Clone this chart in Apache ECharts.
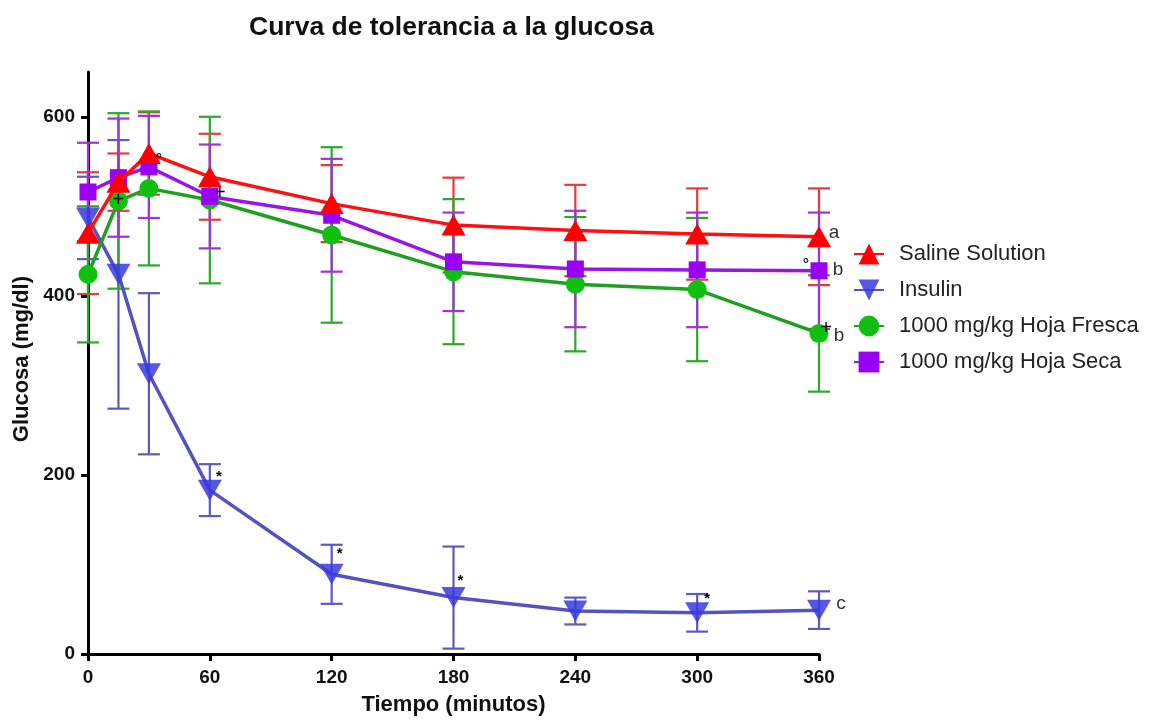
<!DOCTYPE html>
<html>
<head>
<meta charset="utf-8">
<script src="https://cdn.jsdelivr.net/npm/echarts@6/dist/echarts.min.js"></script>
<style>html,body{margin:0;padding:0;background:#fff;}#c{width:1150px;height:721px;}</style>
</head>
<body>
<div id="c"></div>
<script>
// ---- data ----
const times = [0, 15, 30, 60, 120, 180, 240, 300, 360];
const xTicks = [0, 60, 120, 180, 240, 300, 360];
const yTicks = [0, 200, 400, 600];
const seriesNames = ['Saline Solution', 'Insulin', '1000 mg/kg Hoja Fresca', '1000 mg/kg Hoja Seca'];
const saline    = [470, 527, 559, 533, 503, 479, 473, 469, 466];
const salineSD  = [68, 32, 46, 48, 43, 53, 51, 51, 54];
const insulin   = [487, 424, 313, 183, 89, 63, 48, 46, 49];
const insulinSD = [46, 150, 90, 29, 33, 57, 15, 21, 21];
const fresca    = [424, 506, 520, 507, 468, 427, 413, 407, 358];
const frescaSD  = [76, 98, 86, 93, 98, 81, 75, 80, 65];
const seca      = [516, 532, 544, 511, 490, 438, 430, 429, 428];
const secaSD    = [55, 66, 57, 58, 63, 55, 65, 64, 65];
// annotation: [time, value, text]
const annotations = [
  [15, 506, '+'], [30, 544, '°'], [60, 511, '+'], [60, 183, '*'],
  [120, 89, '*'], [180, 63, '*'], [300, 46, '*'],
  [360, 466, 'a'], [360, 428, '°'], [360, 428, 'b'],
  [360, 358, '+'], [360, 358, 'b'], [360, 49, 'c']
];
const annotationOffsets = [
  [0, 0], [10, -7], [10, -3], [9, -13],
  [8, -20], [7, -17], [10, -14],
  [15, -4], [-13, -5], [19, -1],
  [7, -5], [20, 2], [22, -6]
];

const FONT = '"Liberation Sans", Arial, sans-serif';

function errData(vals, sds) { return times.map((t, i) => [t, vals[i], sds[i]]); }
function errRender(color) {
  return function (params, api) {
    const x = api.value(0), m = api.value(1), e = api.value(2);
    const top = api.coord([x, m + e]);
    const bot = api.coord([x, m - e]);
    const w = 11;
    const st = { stroke: color, lineWidth: 2.2 };
    return {
      type: 'group',
      children: [
        { type: 'line', shape: { x1: top[0], y1: top[1], x2: bot[0], y2: bot[1] }, style: st },
        { type: 'line', shape: { x1: top[0] - w, y1: top[1], x2: top[0] + w, y2: top[1] }, style: st },
        { type: 'line', shape: { x1: bot[0] - w, y1: bot[1], x2: bot[0] + w, y2: bot[1] }, style: st }
      ]
    };
  };
}
function pts(vals) { return times.map((t, i) => [t, vals[i]]); }

const colors = {
  saline: { line: '#ff1010', mark: '#ff0000', err: '#e83a3a' },
  insulin: { line: '#5252c2', mark: '#3a3ae0', err: '#5a5ac0' },
  fresca: { line: '#1ea01e', mark: '#10c010', err: '#2da82d' },
  seca: { line: '#9a14e8', mark: '#9a00f5', err: '#a030e0' }
};

const chart = echarts.init(document.getElementById('c'), null, { renderer: 'canvas' });
const option = {
  animation: false,
  backgroundColor: '#ffffff',
  title: {
    text: 'Curva de tolerancia a la glucosa',
    left: 244, top: 9,
    textStyle: { fontFamily: FONT, fontSize: 26.5, fontWeight: 'bold', color: '#111' }
  },
  legend: {
    orient: 'vertical',
    left: 848, top: 238,
    itemWidth: 30, itemHeight: 26, itemGap: 14,
    data: seriesNames,
    textStyle: { fontFamily: FONT, fontSize: 22, color: '#222', padding: [0, 0, 0, 10] }
  },
  grid: { left: 88, right: 331, top: 72, bottom: 67, containLabel: false },
  xAxis: {
    type: 'value', min: 0, max: 360, interval: 60,
    name: 'Tiempo (minutos)', nameLocation: 'middle', nameGap: 40,
    nameTextStyle: { fontFamily: FONT, fontSize: 22, fontWeight: 'bold', color: '#111' },
    axisLine: { show: true, onZero: false, lineStyle: { color: '#000', width: 3 } },
    axisTick: { show: true, length: 7, lineStyle: { color: '#000', width: 3 } },
    axisLabel: { fontFamily: FONT, fontSize: 19, fontWeight: 'bold', color: '#111', margin: 14 },
    splitLine: { show: false }
  },
  yAxis: {
    type: 'value', min: 0, max: 650, interval: 200,
    axisLine: { show: true, onZero: false, lineStyle: { color: '#000', width: 3 } },
    axisTick: { show: true, length: 7, customValues: yTicks, lineStyle: { color: '#000', width: 3 } },
    axisLabel: { fontFamily: FONT, fontSize: 19, fontWeight: 'bold', color: '#111', margin: 13, customValues: yTicks },
    splitLine: { show: false }
  },
  graphic: [{
    type: 'text', left: 11, top: 276, rotation: Math.PI / 2,
    style: { text: 'Glucosa (mg/dl)', font: 'bold 22px ' + FONT, fill: '#111' }
  }],
  series: [
    { name: 'err-saline', type: 'custom', renderItem: errRender(colors.saline.err), data: errData(saline, salineSD), z: 2, silent: true },
    { name: 'err-insulin', type: 'custom', renderItem: errRender(colors.insulin.err), data: errData(insulin, insulinSD), z: 2, silent: true },
    { name: 'err-fresca', type: 'custom', renderItem: errRender(colors.fresca.err), data: errData(fresca, frescaSD), z: 2, silent: true },
    { name: 'err-seca', type: 'custom', renderItem: errRender(colors.seca.err), data: errData(seca, secaSD), z: 2, silent: true },
    {
      name: seriesNames[0], type: 'line', data: pts(saline), z: 5,
      symbol: 'triangle', symbolSize: [24, 21],
      lineStyle: { color: colors.saline.line, width: 3.5 },
      itemStyle: { color: colors.saline.mark }
    },
    {
      name: seriesNames[1], type: 'line', data: pts(insulin), z: 4,
      symbol: 'triangle', symbolRotate: 180, symbolSize: [24, 21],
      lineStyle: { color: colors.insulin.line, width: 3.5 },
      itemStyle: { color: colors.insulin.mark, opacity: 0.85 }
    },
    {
      name: seriesNames[2], type: 'line', data: pts(fresca), z: 4,
      symbol: 'circle', symbolSize: 19,
      lineStyle: { color: colors.fresca.line, width: 3.5 },
      itemStyle: { color: colors.fresca.mark }
    },
    {
      name: seriesNames[3], type: 'line', data: pts(seca), z: 4,
      symbol: 'rect', symbolSize: 17,
      lineStyle: { color: colors.seca.line, width: 3.5 },
      itemStyle: { color: colors.seca.mark }
    },
    {
      name: 'annotations', type: 'custom', z: 10, silent: true,
      data: annotations.map((a, i) => [a[0], a[1], i]),
      renderItem: function (params, api) {
        const i = api.value(2);
        const a = annotations[i];
        const off = annotationOffsets[i];
        const p = api.coord([a[0], a[1]]);
        const isLetter = /[a-z]/.test(a[2]);
        const size = isLetter ? 19 : (a[2] === '*' ? 15 : (a[2] === '°' ? 17 : 20));
        return {
          type: 'text',
          x: p[0] + off[0], y: p[1] + off[1],
          style: {
            text: a[2], font: (a[2] === '*' ? 'bold ' : '') + size + 'px ' + FONT,
            fill: isLetter ? '#333' : '#000', align: 'center', verticalAlign: 'middle'
          }
        };
      }
    }
  ]
};
chart.setOption(option);
</script>
</body>
</html>
